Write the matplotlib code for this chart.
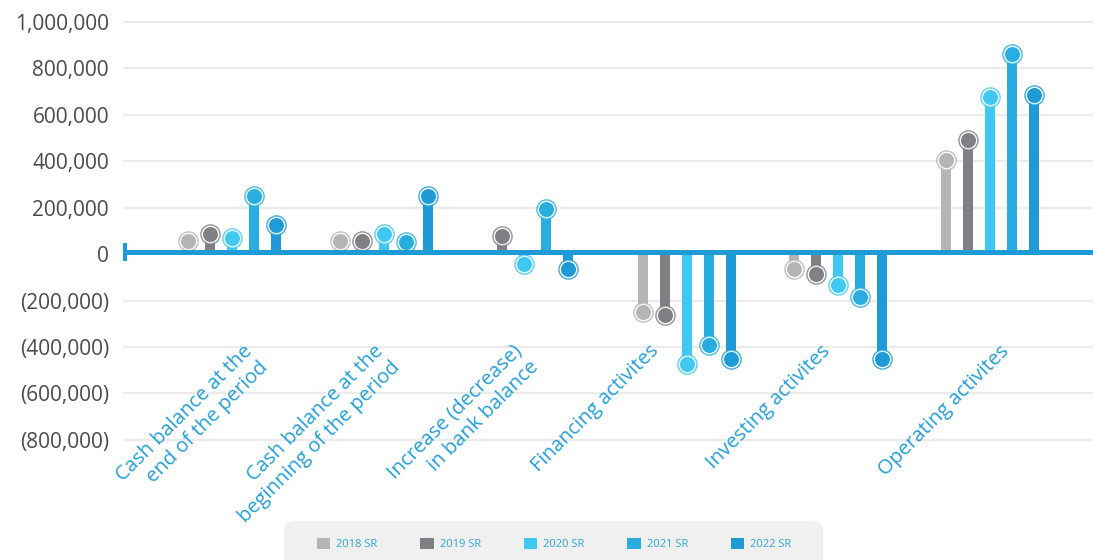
import numpy as np
import matplotlib
matplotlib.use("Agg")
import matplotlib.pyplot as plt
import matplotlib.transforms as mtransforms
from matplotlib.patches import Patch, FancyBboxPatch
from matplotlib.ticker import FuncFormatter

plt.rcParams['font.family'] = ['Open Sans', 'DejaVu Sans']

# data
categories = ['Cash balance at the\nend of the period',
              'Cash balance at the\nbeginning of the period',
              'Increase (decrease)\nin bank balance',
              'Financing activites',
              'Investing activites',
              'Operating activites']
years = ['2018 SR', '2019 SR', '2020 SR', '2021 SR', '2022 SR']
y2018 = [56000, 56000, np.nan, -248000, -63000, 403000]
y2019 = [88000, 56000, 76000, -263000, -87000, 490000]
y2020 = [69000, 85000, -41000, -472000, -135000, 675000]
y2021 = [248000, 54000, 193000, -393000, -184000, 863000]
y2022 = [124000, 248000, -63000, -452000, -452000, 685000]
yticks = [-800000, -600000, -400000, -200000, 0, 200000, 400000, 600000, 800000, 1000000]

series = [y2018, y2019, y2020, y2021, y2022]
colors = ['#b5b5b5', '#808084', '#3ec8f2', '#29ade0', '#1e9bd7']
label_color = '#249fd9'

# label anchor offsets (pixels) relative to each group centre
label_dx = [10, -10, -23, -38, -18, 9]
label_dy = -87

fig = plt.figure(figsize=(10.93, 5.6), dpi=100)
ax = fig.add_axes([123 / 1093, 1 - 444.6 / 560, (1093 - 123) / 1093, (444.6 - 17.1) / 560])

step = 22 / 151.6
bar_w = 10 / 151.6
data = np.array(series, dtype=float)
for c in range(len(categories)):
    present = [k for k in range(len(series)) if not np.isnan(data[k, c])]
    n = len(present)
    for j, k in enumerate(present):
        x = c + (j - (n - 1) / 2) * step
        v = data[k, c]
        ax.bar(x, v, width=bar_w, color=colors[k], zorder=3, linewidth=0)
        ax.scatter([x], [v], s=13.8 ** 2, facecolor='white', edgecolor=colors[k],
                   linewidth=1.0, alpha=0.85, zorder=4)
        ax.scatter([x], [v], s=10.8 ** 2, color=colors[k], linewidth=0, zorder=5)

xl = -0.719
ax.set_xlim(xl, 5.679)
ax.set_ylim(-820000, 1020000)

# zero line with end cap, shifted slightly up like the original
off = mtransforms.offset_copy(ax.transData, fig=fig, x=0, y=2.5, units='dots')
ax.plot([xl, 5.679], [0, 0], color='#1e9bd7', lw=3.6, transform=off, zorder=6,
        solid_capstyle='butt', clip_on=False)
ax.plot([xl + 2 / 151.6], [0], marker='|', markersize=12.5, mew=3.0, color='#1e9bd7',
        transform=off, zorder=6, clip_on=False)

ax.set_yticks(yticks)
ax.yaxis.set_major_formatter(FuncFormatter(
    lambda v, p: '0' if v == 0 else (f'{v:,.0f}' if v > 0 else f'({-v:,.0f})')))
ax.tick_params(axis='y', length=0, pad=10, labelsize=15, labelcolor='#4a4a4a')
ax.set_xticks([])
ax.grid(axis='y', color='#ebebeb', linewidth=1.6, zorder=0)
ax.set_axisbelow(True)
for s in ax.spines.values():
    s.set_visible(False)

for i, cat in enumerate(categories):
    ax.annotate(cat, xy=(i, 0), xytext=(label_dx[i], label_dy),
                textcoords='offset pixels', rotation=45, rotation_mode='anchor',
                ha='right', va='top', fontsize=14.5, color=label_color,
                linespacing=1.2, annotation_clip=False)

# legend
box = FancyBboxPatch((284, -15), 539, 54, boxstyle='round,pad=0,rounding_size=10',
                     transform=mtransforms.IdentityTransform(), facecolor='#f0f0f0',
                     edgecolor='none')
fig.add_artist(box)
handles = [Patch(facecolor=c, edgecolor='none') for c in colors]
fig.legend(handles, years, ncol=5, loc='center left',
           bbox_to_anchor=(317 / 1093, 1 - 544 / 560), frameon=False,
           fontsize=8, labelcolor='#2aa7df', handlelength=1.2, handleheight=1.2,
           handletextpad=0.55, columnspacing=3.85, borderpad=0, borderaxespad=0)

fig.savefig('out.png', dpi=100)
